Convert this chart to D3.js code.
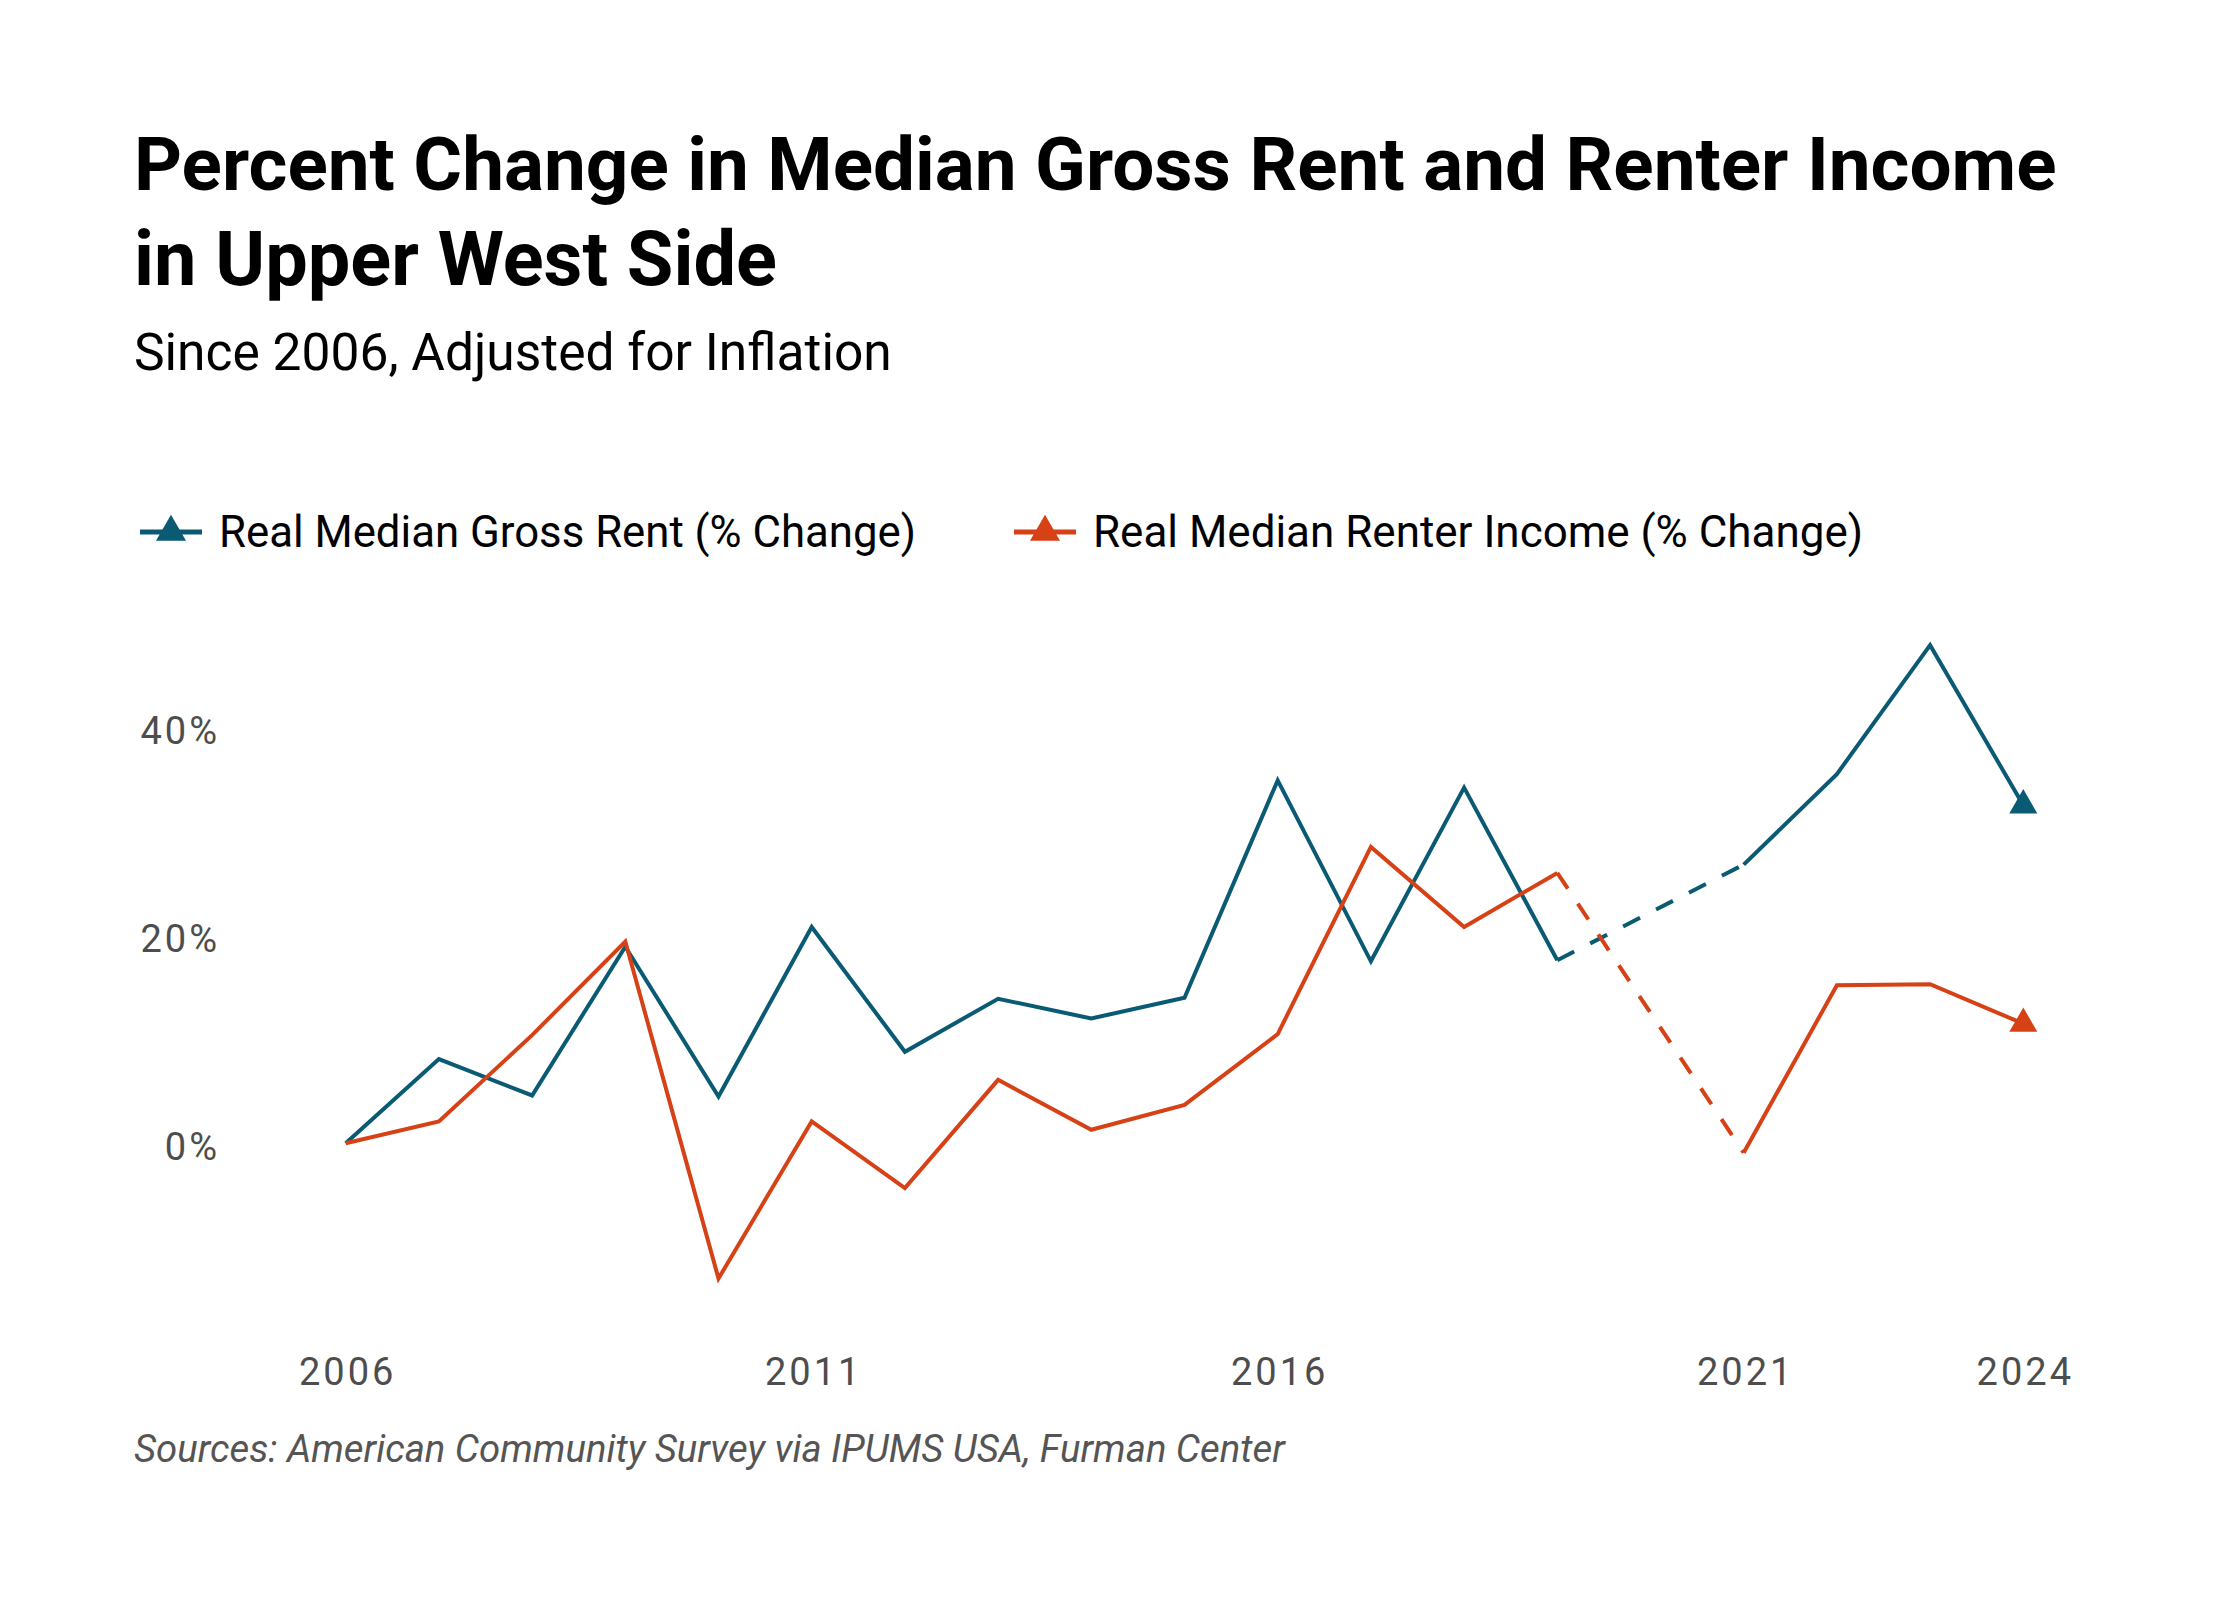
<!DOCTYPE html>
<html>
<head>
<meta charset="utf-8">
<script src="https://cdn.jsdelivr.net/npm/d3@7"></script>
<style>
  html, body { margin: 0; padding: 0; background: #fff; }
  svg { display: block; }
</style>
</head>
<body>
<div id="chart"></div>
<script>
// values (percent change since 2006, no 2020 data)
const years = [2006, 2007, 2008, 2009, 2010, 2011, 2012, 2013, 2014, 2015,
               2016, 2017, 2018, 2019, 2020, 2021, 2022, 2023, 2024];
const rentChange = [0, 8.1, 4.6, 18.9, 4.5, 20.8, 8.8, 13.9, 12.0, 14.0,
                    34.9, 17.5, 34.2, 17.6, null, 26.8, 35.5, 47.9, 32.5];
const incomeChange = [0, 2.1, 10.4, 19.4, -13.0, 2.1, -4.3, 6.1, 1.3, 3.7,
                      10.5, 28.5, 20.8, 26.0, null, -0.9, 15.2, 15.3, 11.5];
const seriesNames = ["Real Median Gross Rent (% Change)", "Real Median Renter Income (% Change)"];
const yTicks = [0, 20, 40];
const xTicks = [2006, 2011, 2016, 2021, 2024];

const W = 2240, H = 1600;
const colors = ["#0a5a74", "#d64116"];
const font = "Roboto, 'Noto Sans', sans-serif";

const svg = d3.select("#chart").append("svg")
    .attr("xmlns", "http://www.w3.org/2000/svg")
    .attr("width", W)
    .attr("height", H);

svg.append("rect").attr("width", W).attr("height", H).attr("fill", "#fff");

// scale a text's font size so it spans the width it has in the reference
function fitWidth(sel, target) {
    const len = sel.node().getComputedTextLength();
    const size = parseFloat(sel.attr("font-size"));
    sel.attr("font-size", (size * target / len).toFixed(2));
}

// Title and subtitle
const titleLines = ["Percent Change in Median Gross Rent and Renter Income", "in Upper West Side"];
const titleWidths = [1923, 643];
titleLines.forEach((t, i) => {
    const el = svg.append("text")
        .attr("x", 134)
        .attr("y", 190 + i * 95)
        .attr("font-family", font)
        .attr("font-weight", 700)
        .attr("font-size", 66)
        .attr("fill", "#000")
        .text(t);
    fitWidth(el, titleWidths[i]);
});

const sub = svg.append("text")
    .attr("x", 134)
    .attr("y", 370)
    .attr("font-family", font)
    .attr("font-size", 46)
    .attr("fill", "#000")
    .text("Since 2006, Adjusted for Inflation");
fitWidth(sub, 758);

// Scales
const x = d3.scaleLinear().domain([2006, 2024]).range([345.7, 2023.3]);
const y = d3.scaleLinear().domain([0, 40]).range([1143.3, 727.3]);

const triangle = d3.symbol().type(d3.symbolTriangle);

// Legend
const legendX = [140, 1014];
const legendW = [697, 770];
seriesNames.forEach((name, i) => {
    const g = svg.append("g").attr("transform", `translate(${legendX[i]},532)`);
    g.append("line")
        .attr("x1", 0).attr("x2", 62)
        .attr("stroke", colors[i])
        .attr("stroke-width", 5);
    g.append("path")
        .attr("d", triangle.size(390)())
        .attr("transform", "translate(31,0)")
        .attr("fill", colors[i]);
    const t = g.append("text")
        .attr("x", 79)
        .attr("y", 15)
        .attr("font-family", font)
        .attr("font-size", 38)
        .attr("fill", "#000")
        .text(name);
    fitWidth(t, legendW[i]);
});

// Axes (labels only)
const yAxis = svg.append("g")
    .attr("transform", "translate(220,0)")
    .call(d3.axisLeft(y).tickValues(yTicks).tickSize(0).tickPadding(0).tickFormat(d => d + "%"));
yAxis.select(".domain").remove();
yAxis.selectAll("text")
    .attr("dy", 16)
    .attr("font-family", font)
    .attr("font-size", 38)
    .attr("letter-spacing", 3)
    .attr("fill", "#4d4d4d");

const xAxis = svg.append("g")
    .attr("transform", "translate(1.5,1385)")
    .call(d3.axisBottom(x).tickValues(xTicks).tickSize(0).tickFormat(d3.format("d")));
xAxis.select(".domain").remove();
xAxis.selectAll("text")
    .attr("y", 0)
    .attr("dy", 0)
    .attr("font-family", font)
    .attr("font-size", 38)
    .attr("letter-spacing", 3)
    .attr("fill", "#4d4d4d");

// Lines
const series = [rentChange, incomeChange];
const line = d3.line()
    .defined(d => d.v != null)
    .x(d => x(d.year))
    .y(d => y(d.v));

series.forEach((vals, i) => {
    const pts = years.map((yr, j) => ({ year: yr, v: vals[j] }));

    // dashed bridge over missing years
    const known = pts.filter(d => d.v != null);
    const gaps = [];
    for (let j = 1; j < known.length; j++) {
        if (years.indexOf(known[j].year) - years.indexOf(known[j - 1].year) > 1) {
            gaps.push([known[j - 1], known[j]]);
        }
    }
    svg.selectAll(null)
        .data(gaps)
        .enter().append("path")
        .attr("d", d => d3.line().x(p => x(p.year)).y(p => y(p.v))(d))
        .attr("fill", "none")
        .attr("stroke", colors[i])
        .attr("stroke-width", 4)
        .attr("stroke-dasharray", "19,18");

    svg.append("path")
        .datum(pts)
        .attr("d", line)
        .attr("fill", "none")
        .attr("stroke", colors[i])
        .attr("stroke-width", 4);

    const last = known[known.length - 1];
    svg.append("path")
        .attr("d", triangle.size(340)())
        .attr("transform", `translate(${x(last.year)},${y(last.v)})`)
        .attr("fill", colors[i]);
});

// Source note
const src = svg.append("text")
    .attr("x", 134)
    .attr("y", 1462)
    .attr("font-family", font)
    .attr("font-style", "italic")
    .attr("font-size", 36)
    .attr("fill", "#555")
    .text("Sources: American Community Survey via IPUMS USA, Furman Center");
fitWidth(src, 1151);
</script>
</body>
</html>
